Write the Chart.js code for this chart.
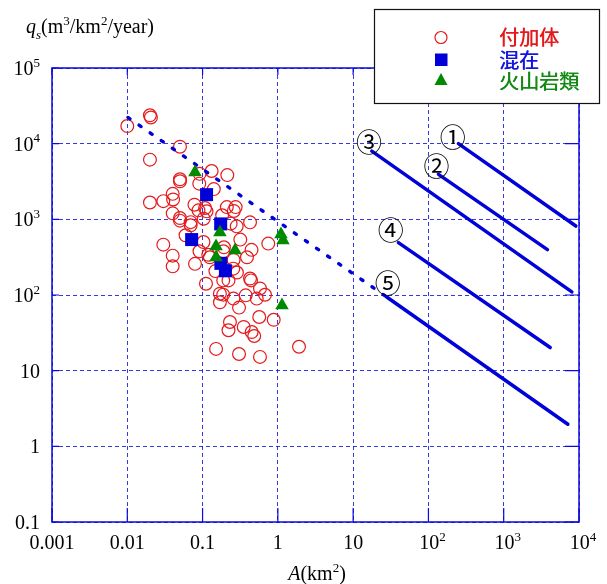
<!DOCTYPE html>
<html><head><meta charset="utf-8">
<script src="https://cdn.jsdelivr.net/npm/chart.js@4.4.1/dist/chart.umd.min.js"></script>
<style>html,body{margin:0;padding:0;background:#fff;}canvas{display:block;}</style>
</head><body>
<canvas id="c" width="607" height="584" style="width:607px;height:584px"></canvas>
<script>
// ---- data ----
const xTicks = [0.001, 0.01, 0.1, 1, 10, 100, 1000, 10000];
const xTickLabels = ['0.001', '0.01', '0.1', '1', '10', '10^2', '10^3', '10^4'];
const yTicks = [0.1, 1, 10, 100, 1000, 10000, 100000];
const yTickLabels = ['0.1', '1', '10', '10^2', '10^3', '10^4', '10^5'];

const seriesNames = ['付加体', '混在', '火山岩類'];

// 付加体 (red open circles)
const accA = [0.0100, 0.0200, 0.0206, 0.0501, 0.0200, 0.132, 0.213, 0.0914, 0.0501, 0.0501,
  0.141, 0.0904, 0.0401, 0.0406, 0.0200, 0.0301, 0.0780, 0.108, 0.113, 0.0882,
  0.210, 0.275, 0.260, 0.0401, 0.0501, 0.0501, 0.0695, 0.0695, 0.1035, 0.182,
  0.236, 0.284, 0.427, 0.0594, 0.1028, 0.317, 0.746, 0.0301, 0.0910, 0.447,
  0.0401, 0.119, 0.125, 0.389, 0.258, 0.192, 0.189, 0.0401, 0.0793, 0.148,
  0.286, 0.256, 0.188, 0.221, 0.111, 0.427, 0.440, 0.579, 0.675, 0.374,
  0.257, 0.524, 0.170, 0.188, 0.170, 0.305, 0.566, 0.881, 0.231, 0.221,
  0.352, 0.449, 0.485, 0.151, 0.305, 0.579, 1.91];
const accQ = [17100, 23700, 22200, 9120, 6150, 4350, 3840, 3990, 3380, 3180,
  2510, 2960, 2170, 1830, 1670, 1740, 1560, 1410, 1275, 1315,
  1450, 1450, 1290, 1200, 1040, 960, 918, 833, 1020, 1130,
  877, 808, 912, 615, 501, 540, 478, 463, 378, 395,
  331, 340, 315, 315, 291, 427, 378, 239, 258, 207,
  198, 223, 156, 156, 141, 165, 156, 122, 100.7, 99,
  89.6, 89.6, 104, 101, 80.1, 68.2, 51.2, 47.0, 44.0, 34.2,
  37.8, 32.4, 28.7, 19.4, 16.6, 15.2, 20.7];

// 混在 (blue squares)
const mixA = [0.113, 0.174, 0.0716, 0.175, 0.201];
const mixQ = [2120, 870, 540, 262, 209];

// 火山岩類 (green triangles)
const volA = [0.0793, 0.170, 0.151, 0.270, 0.151, 1.10, 1.17, 1.135];
const volQ = [4180, 673, 440, 389, 315, 634, 528, 73.1];

// relation lines ①-⑤
const lineNames = ['①', '②', '③', '④', '⑤'];
const lineStartA = [250, 136, 17.7, 39.9, 27.9];
const lineStartQ = [10000, 3930, 7980, 492, 94.1];
const lineEndA = [9080, 3810, 8030, 4140, 7110];
const lineEndQ = [815, 398, 110, 20.2, 1.96];
const lineLabelA = [211, 128, 16.3, 31.6, 28.8];
const lineLabelQ = [12600, 5280, 10700, 738, 146];

// dotted extrapolation of ⑤
const dottedA = [0.0102, 27.9];
const dottedQ = [22200, 94.1];

// ---- styles ----
const RED = '#e41a1c', BLUE = '#0000d8', GREEN = '#008a00', AXIS = '#0a0ae0';

const pts = (a, q) => a.map((v, i) => ({x: v, y: q[i]}));

const datasets = [
  {label: seriesNames[2], data: pts(volA, volQ), pointStyle: 'triangle', pointRadius: 7.8, pointHoverRadius: 7.8,
   backgroundColor: GREEN, borderColor: GREEN, borderWidth: 0, order: 1},
  {label: seriesNames[1], data: pts(mixA, mixQ), pointStyle: 'rect', pointRadius: 9.2, pointHoverRadius: 9.2,
   backgroundColor: BLUE, borderColor: BLUE, borderWidth: 0, order: 2},
];
lineNames.forEach((n, i) => {
  datasets.push({label: n, data: [{x: lineStartA[i], y: lineStartQ[i]}, {x: lineEndA[i], y: lineEndQ[i]}],
    showLine: true, pointRadius: 0, pointHoverRadius: 0, borderColor: BLUE, borderWidth: 3.5,
    borderCapStyle: 'round', fill: false, order: 3});
});
datasets.push({label: 'dotted', data: pts(dottedA, dottedQ), showLine: true, pointRadius: 0, pointHoverRadius: 0,
  borderColor: BLUE, borderWidth: 3.4, borderDash: [2.5, 11], borderCapStyle: 'round', fill: false, order: 3});
datasets.push({label: seriesNames[0], data: pts(accA, accQ), pointStyle: 'circle', pointRadius: 6.4, pointHoverRadius: 6.4,
  backgroundColor: 'rgba(0,0,0,0)', borderColor: RED, borderWidth: 1.2, order: 4});

// ---- rich text helper ----
const SERIF = '"Liberation Serif", "Times New Roman", serif';
function parseLabel(s) {
  const m = s.split('^');
  return m.length === 2 ? [{t: m[0]}, {t: m[1], sup: true}] : [{t: s}];
}
function drawRich(ctx, parts, x, y, size, align) {
  const seg = parts.map(p => {
    const s = (p.sup || p.sub) ? Math.round(size * 0.66) : size;
    const font = (p.it ? 'italic ' : '') + s + 'px ' + SERIF;
    ctx.font = font;
    return {t: p.t, font, w: ctx.measureText(p.t).width, dy: p.sup ? -size * 0.42 : (p.sub ? size * 0.3 : 0)};
  });
  const total = seg.reduce((a, s) => a + s.w, 0);
  let cx = align === 'right' ? x - total : (align === 'center' ? x - total / 2 : x);
  ctx.textAlign = 'left';
  ctx.textBaseline = 'alphabetic';
  seg.forEach(s => { ctx.font = s.font; ctx.fillText(s.t, cx, y + s.dy); cx += s.w; });
}

const decor = {
  id: 'decor',
  afterDraw(chart) {
    const ctx = chart.ctx, a = chart.chartArea, xs = chart.scales.x, ys = chart.scales.y;
    ctx.save();
    // frame
    ctx.strokeStyle = AXIS; ctx.lineWidth = 1.5; ctx.setLineDash([]);
    ctx.strokeRect(a.left, a.top, a.right - a.left, a.bottom - a.top);
    // inward ticks
    ctx.lineWidth = 1.2;
    ctx.beginPath();
    xTicks.forEach(v => {
      const px = xs.getPixelForValue(v);
      ctx.moveTo(px, a.bottom); ctx.lineTo(px, a.bottom - 14);
      ctx.moveTo(px, a.top); ctx.lineTo(px, a.top + 7);
    });
    yTicks.forEach(v => {
      const py = ys.getPixelForValue(v);
      ctx.moveTo(a.left, py); ctx.lineTo(a.left + 7, py);
      ctx.moveTo(a.right, py); ctx.lineTo(a.right - 14, py);
    });
    ctx.stroke();
    // tick labels
    ctx.fillStyle = '#000';
    xTicks.forEach((v, i) => {
      const px = xs.getPixelForValue(v);
      const parts = parseLabel(xTickLabels[i]);
      drawRich(ctx, parts, px + (parts.length > 1 ? 4 : 0), a.bottom + 27, 20, 'center');
    });
    yTicks.forEach((v, i) => {
      const py = ys.getPixelForValue(v);
      drawRich(ctx, parseLabel(yTickLabels[i]), 40, py + 7, 20, 'right');
    });
    // axis titles
    drawRich(ctx, [{t: 'q', it: true}, {t: 's', it: true, sub: true}, {t: '(m'}, {t: '3', sup: true},
      {t: '/km'}, {t: '2', sup: true}, {t: '/year)'}], 26, 33, 20, 'left');
    drawRich(ctx, [{t: 'A', it: true}, {t: '(km'}, {t: '2', sup: true}, {t: ')'}], 317, 580, 20, 'center');
    // circled line labels
    ctx.font = '26px "Noto Sans CJK JP", "DejaVu Sans", sans-serif';
    ctx.textAlign = 'center'; ctx.textBaseline = 'middle'; ctx.fillStyle = '#000';
    lineNames.forEach((n, i) => {
      ctx.fillText(n, xs.getPixelForValue(lineLabelA[i]), ys.getPixelForValue(lineLabelQ[i]) + 1);
    });
    // legend box
    ctx.fillStyle = '#fff'; ctx.fillRect(374, 9, 225, 94);
    ctx.strokeStyle = '#111'; ctx.lineWidth = 1.2; ctx.strokeRect(374.5, 9.5, 225, 94);
    // markers
    ctx.strokeStyle = RED; ctx.lineWidth = 1.2;
    ctx.beginPath(); ctx.arc(441, 37.5, 6, 0, Math.PI * 2); ctx.stroke();
    ctx.fillStyle = BLUE; ctx.fillRect(435, 53.5, 12.5, 12.5);
    ctx.fillStyle = GREEN; ctx.beginPath();
    ctx.moveTo(441, 73); ctx.lineTo(447.5, 85); ctx.lineTo(434.5, 85); ctx.closePath(); ctx.fill();
    // legend texts
    ctx.font = '20px "Noto Sans CJK JP", sans-serif';
    ctx.textAlign = 'left'; ctx.textBaseline = 'middle';
    const legCol = [RED, '#1515e0', '#138a13'];
    const legY = [37, 60, 81];
    [0, 1, 2].forEach((k, i) => {
      ctx.fillStyle = legCol[k];
      ctx.fillText(seriesNames[k], 499, legY[i]);
      ctx.fillText(seriesNames[k], 499.4, legY[i]);
    });
    ctx.restore();
  }
};

const gridOpts = {color: 'rgba(20,20,225,0.85)', lineWidth: 1, drawTicks: false, tickLength: 0};
new Chart(document.getElementById('c'), {
  type: 'scatter',
  data: {datasets},
  options: {
    responsive: false, animation: false, events: [],
    layout: {padding: {left: 52, top: 68, right: 28, bottom: 62}},
    plugins: {legend: {display: false}, tooltip: {enabled: false}},
    scales: {
      x: {type: 'logarithmic', min: 0.001, max: 10000,
        afterBuildTicks: s => { s.ticks = xTicks.map(v => ({value: v})); },
        ticks: {display: false}, grid: gridOpts, border: {display: false, dash: [4, 3]}},
      y: {type: 'logarithmic', min: 0.1, max: 100000,
        afterBuildTicks: s => { s.ticks = yTicks.map(v => ({value: v})); },
        ticks: {display: false}, grid: gridOpts, border: {display: false, dash: [4, 3]}}
    }
  },
  plugins: [decor]
});
</script></body></html>
